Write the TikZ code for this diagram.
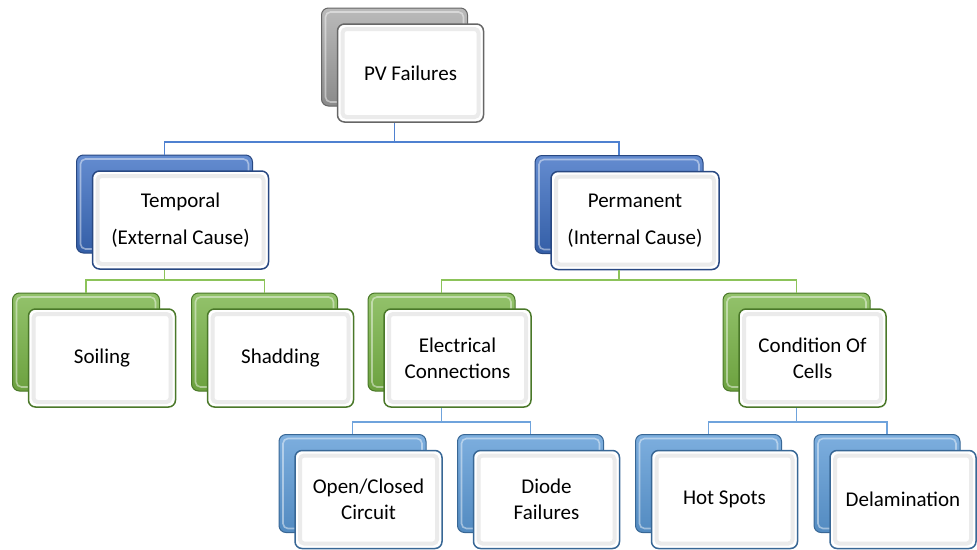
\documentclass[tikz,border=0pt]{standalone}
\usepackage{fontspec}
\setmainfont{Carlito}
\definecolor{grayF}{HTML}{A3A3A3}
\definecolor{grayD}{HTML}{666666}
\definecolor{blueF}{HTML}{3D6FC4}
\definecolor{blueD}{HTML}{284882}
\definecolor{greenF}{HTML}{78B346}
\definecolor{greenD}{HTML}{4A7829}
\definecolor{skyF}{HTML}{5C9AD6}
\definecolor{skyD}{HTML}{386795}
\definecolor{lnBlue}{HTML}{4F81D0}
\definecolor{lnGreen}{HTML}{8CC35A}
\definecolor{lnSky}{HTML}{6FA3DC}
\tikzset{
  card/.style={rounded corners=7pt, minimum height=98pt, inner sep=0pt, line width=1pt},
  backcard/.style={card,
    path picture={\draw[white,opacity=.45,line width=1.6pt,rounded corners=5pt]
      ([xshift=4pt,yshift=-4pt]path picture bounding box.north west)
      rectangle ([xshift=-4pt,yshift=4pt]path picture bounding box.south east);}},
  frontcard/.style={card, fill=white, line width=1.5pt,
    font=\fontsize{21}{26}\selectfont, align=center, text=black,
    path picture={\draw[black!8,line width=4pt,rounded corners=4pt]
      ([xshift=5pt,yshift=-5pt]path picture bounding box.north west)
      rectangle ([xshift=-5pt,yshift=5pt]path picture bounding box.south east);}},
  bgray/.style={draw=grayD, top color=grayF!75!white, bottom color=grayF!85!black},
  bblue/.style={draw=blueD, top color=blueF!80!white, bottom color=blueF!85!black},
  bgreen/.style={draw=greenD, top color=greenF!80!white, bottom color=greenF!90!black},
  bsky/.style={draw=skyD, top color=skyF!80!white, bottom color=skyF!90!black},
  fgray/.style={draw=grayD},
  fblue/.style={draw=blueD},
  fgreen/.style={draw=greenD},
  fsky/.style={draw=skyD},
  lnA/.style={draw=lnBlue, line width=1.5pt},
  lnG/.style={draw=lnGreen, line width=1.5pt},
  lnC/.style={draw=lnSky, line width=1.5pt},
}
% back card + front card pair: name, back style, front style, back centre x, y, width, label
\newcommand\cardpair[7]{%
  \node[backcard,#2,minimum width=#6pt] (#1B) at (#4,#5) {};
  \node[frontcard,#3,minimum width=#6pt,xshift=16pt,yshift=-16pt] (#1) at (#4,#5) {#7};
}
\begin{document}
\begin{tikzpicture}[x=1pt,y=-1pt]
\useasboundingbox (0,0) rectangle (977,549);
\coordinate (busA) at (0,142);
\coordinate (busB) at (0,280);
\coordinate (busC) at (0,422);

\cardpair{pv}{bgray}{fgray}{394.5}{57}{146}{PV Failures}
\cardpair{temp}{bblue}{fblue}{164.5}{204}{176}{Temporal\\[11pt](External Cause)}
\cardpair{perm}{bblue}{fblue}{619}{204.5}{168}{Permanent\\[11pt](Internal Cause)}
\cardpair{soil}{bgreen}{fgreen}{86}{342}{147}{Soiling}
\cardpair{shad}{bgreen}{fgreen}{264.5}{342}{146}{Shadding}
\cardpair{elec}{bgreen}{fgreen}{441.5}{342}{147}{Electrical\\Connections}
\cardpair{cond}{bgreen}{fgreen}{796.5}{342}{147}{Condition Of\\Cells}
\cardpair{open}{bsky}{fsky}{352.5}{483.5}{147}{Open/Closed\\Circuit}
\cardpair{diode}{bsky}{fsky}{530.5}{483.5}{146}{Diode\\Failures}
\cardpair{hot}{bsky}{fsky}{708.5}{483.5}{146}{Hot Spots}
\cardpair{delam}{bsky}{fsky}{887}{483.5}{146}{Delamination}

% first level
\draw[lnA] (pvB.center |- pv.south) -- (pvB.center |- busA);
\draw[lnA] (tempB.north) |- (pvB.center |- busA) -| (permB.north);
% second level
\draw[lnG] (tempB.center |- temp.south) -- (tempB.center |- busB);
\draw[lnG] (soilB.north) |- (tempB.center |- busB) -| (shadB.north);
\draw[lnG] (permB.center |- perm.south) -- (permB.center |- busB);
\draw[lnG] (elecB.north) |- (permB.center |- busB) -| (condB.north);
% third level
\draw[lnC] (elecB.center |- elec.south) -- (elecB.center |- busC);
\draw[lnC] (openB.north) |- (elecB.center |- busC) -| (diodeB.north);
\draw[lnC] (condB.center |- cond.south) -- (condB.center |- busC);
\draw[lnC] (hotB.north) |- (condB.center |- busC) -| (delamB.north);
\end{tikzpicture}
\end{document}
